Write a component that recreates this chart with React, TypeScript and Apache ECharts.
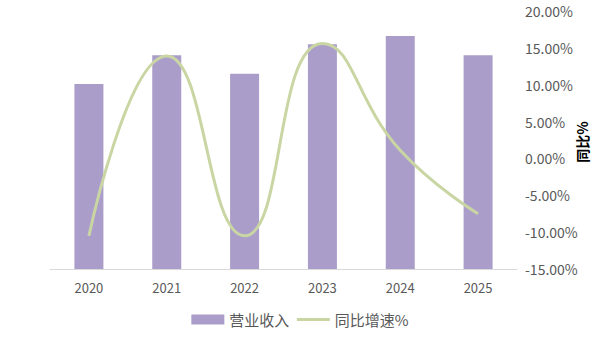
import React, { useEffect, useRef } from "react";
import * as echarts from "echarts";

const categories = ["2020", "2021", "2022", "2023", "2024", "2025"];
const revenue = [25.1, 29.0, 26.5, 30.5, 31.6, 29.0];
const growth = [-10.5, 13.9, -10.5, 15.6, 1.1, -7.5];
const rightTicks = { min: -15, max: 20, interval: 5 };
const rightAxisName = "同比%";

export default function App() {
  const ref = useRef<HTMLDivElement>(null);
  useEffect(() => {
    if (!ref.current) return;
    const chart = echarts.init(ref.current, null, { renderer: "svg" });
    const font = "'Noto Sans CJK SC', 'Microsoft YaHei', sans-serif";
    chart.setOption({
      animation: false,
      backgroundColor: "#ffffff",
      textStyle: { fontFamily: font },
      grid: { left: 50, right: 83, top: 11, bottom: 72, containLabel: false, outerBoundsMode: "none" },
      graphic: [
        {
          type: "text",
          x: 582,
          y: 142,
          rotation: Math.PI / 2,
          style: {
            text: rightAxisName,
            align: "center",
            verticalAlign: "middle",
            fill: "#000000",
            fontSize: 14,
            fontWeight: "bold",
            fontFamily: font,
          },
        },
      ],
      legend: {
        bottom: 9,
        left: "center",
        itemWidth: 33,
        itemHeight: 10,
        itemGap: 6,
        textStyle: { fontSize: 15, color: "#595959", fontFamily: font },
        data: [
          { name: "营业收入", icon: "rect" },
          { name: "同比增速%", itemStyle: { opacity: 0 }, lineStyle: { color: "#c9d6a3", width: 3, opacity: 1 } },
        ],
      },
      xAxis: {
        type: "category",
        data: categories,
        axisLine: { show: true, lineStyle: { color: "#d9d9d9", width: 1 } },
        axisTick: { show: false },
        axisLabel: { color: "#595959", fontSize: 13, margin: 12, fontFamily: font },
      },
      yAxis: [
        {
          type: "value",
          min: 0,
          max: 35,
          show: false,
          splitLine: { show: false },
        },
        {
          type: "value",
          position: "right",
          min: rightTicks.min,
          max: rightTicks.max,
          interval: rightTicks.interval,
          axisLine: { show: false },
          axisTick: { show: false },
          splitLine: { show: false },
          axisLabel: {
            color: "#595959",
            fontSize: 14,
            margin: 8,
            fontFamily: font,
            formatter: (v: number) => v.toFixed(2) + "%",
          },
        },
      ],
      series: [
        {
          name: "营业收入",
          type: "bar",
          yAxisIndex: 0,
          data: revenue,
          barWidth: 29,
          itemStyle: { color: "#ab9dca" },
        },
        {
          name: "同比增速%",
          type: "line",
          yAxisIndex: 1,
          data: growth,
          smooth: 0.5,
          symbol: "none",
          lineStyle: { color: "#c9d6a3", width: 3 },
          itemStyle: { color: "#c9d6a3" },
        },
      ],
    });
    return () => chart.dispose();
  }, []);
  return <div ref={ref} style={{ width: 600, height: 341, position: "fixed", left: 0, top: 0 }} />;
}
